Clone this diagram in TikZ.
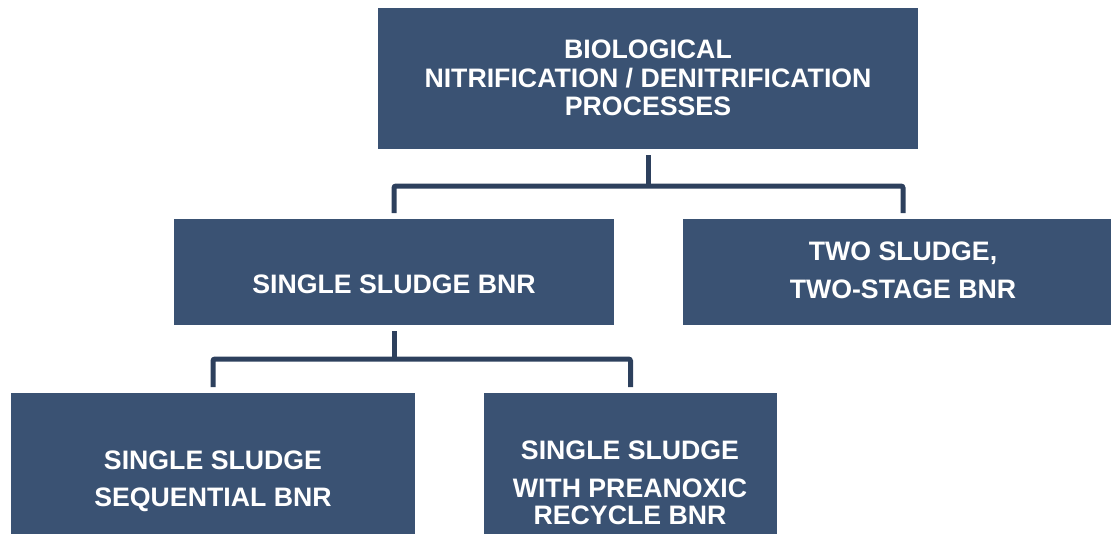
\documentclass[tikz,border=0pt]{standalone}
\usepackage{fontspec}
\setmainfont{Liberation Sans}
\usetikzlibrary{calc}
\definecolor{boxblue}{HTML}{3A5273}
\definecolor{linkblue}{HTML}{2D405D}
\begin{document}
\begin{tikzpicture}[x=1pt,y=-1pt,
  box/.style={fill=boxblue, draw=none, inner sep=0pt, outer sep=0pt},
  label/.style={text=white, inner sep=0pt, anchor=north, align=center,
    font=\fontsize{26.7}{28.3}\selectfont\bfseries},
  link/.style={draw=linkblue, line width=5pt, rounded corners=2pt}]
  \useasboundingbox (0,0) rectangle (1111,533);

  % boxes
  \node[box, minimum width=540, minimum height=141] (top) at (648,78.5) {};
  \node[box, minimum width=440, minimum height=106] (single) at (394,272) {};
  \node[box, minimum width=440, minimum height=106] (two) at (903,272) {};
  \node[box, minimum width=404, minimum height=150] (seq) at (213,468) {};
  \node[box, minimum width=293, minimum height=150] (pre) at (630.5,468) {};

  % labels
  \node[label] (topt) at (648,40.0)
    {BIOLOGICAL\\NITRIFICATION / DENITRIFICATION\\PROCESSES};
  \node[label] (singlet) at (394,274.5) {SINGLE SLUDGE BNR};
  \node[label] (twot) at (903,242.0) {TWO SLUDGE,\\[9.5pt]TWO-STAGE BNR};
  \node[label] (seqt) at (213,450.3) {SINGLE SLUDGE\\[9.5pt]SEQUENTIAL BNR};
  \node[label] (pret) at (630,441.0)
    {SINGLE SLUDGE\\[9.5pt]WITH PREANOXIC\\[-1pt]RECYCLE BNR};

  % connectors
  \coordinate (j1) at ($(top.south)+(0,37)$);
  \coordinate (j2) at ($(single.south)+(0,34)$);
  \draw[link, shorten <=6pt] (top.south) -- (j1);
  \draw[link, shorten <=6pt, shorten >=6pt]
    (single.north) -- (single.north |- j1) -- (two.north |- j1) -- (two.north);
  \draw[link, shorten <=6pt] (single.south) -- (j2);
  \draw[link, shorten <=6pt, shorten >=6pt]
    (seq.north) -- (seq.north |- j2) -- (pre.north |- j2) -- (pre.north);
\end{tikzpicture}
\end{document}
